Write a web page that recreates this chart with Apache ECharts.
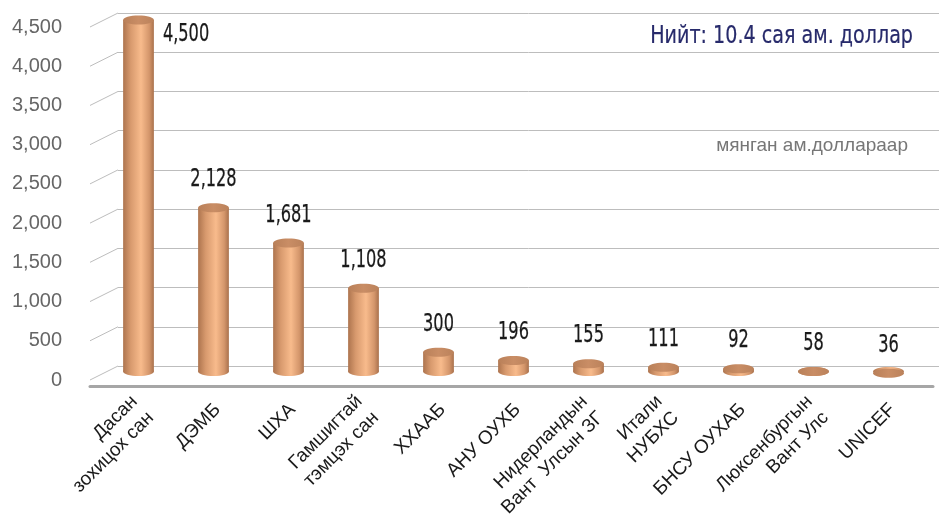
<!DOCTYPE html>
<html>
<head>
<meta charset="utf-8">
<script src="https://cdn.jsdelivr.net/npm/echarts@6/dist/echarts.min.js"></script>
<style>
html,body{margin:0;padding:0;background:#fff;}
#chart{width:939px;height:521px;}
</style>
</head>
<body>
<div id="chart"></div>
<script>
var categories = ['Дасан\nзохицох сан','ДЭМБ','ШХА','Гамшигтай\nтэмцэх сан','ХХААБ','АНУ ОУХБ','Нидерландын\nВант  Улсын ЗГ','Итали\nНУБХС','БНСУ ОУХАБ','Люксенбургын\nВант Улс','UNICEF'];
var values = [4500, 2128, 1681, 1108, 300, 196, 155, 111, 92, 58, 36];
var yTicks = [0, 500, 1000, 1500, 2000, 2500, 3000, 3500, 4000, 4500];
var titleText = 'Нийт: 10.4 сая ам. доллар';
var unitText = 'мянган ам.доллараар';

var NARROW = "'DejaVu Sans Condensed','Liberation Sans Narrow',sans-serif";
var SANS = "'Liberation Sans',Arial,sans-serif";
var fmt = function (v) { return Number(v).toLocaleString('en-US'); };

var chart = echarts.init(document.getElementById('chart'), null, {renderer: 'canvas'});

var sideGrad = {
  type: 'linear', x: 0, y: 0, x2: 1, y2: 0,
  colorStops: [
    {offset: 0, color: '#ad744e'},
    {offset: 0.25, color: '#d89a6e'},
    {offset: 0.58, color: '#f8bb8c'},
    {offset: 0.85, color: '#d4966b'},
    {offset: 1, color: '#a9714c'}
  ]
};
var topGrad = {
  type: 'linear', x: 0, y: 0, x2: 1, y2: 0,
  colorStops: [
    {offset: 0, color: '#b98059'},
    {offset: 0.5, color: '#c98d65'},
    {offset: 1, color: '#bb825b'}
  ]
};

var option = {
  animation: false,
  backgroundColor: '#ffffff',
  graphic: [
    {type: 'text', x: 913, y: 36, scaleX: 0.85, silent: true,
     style: {text: titleText, x: 0, y: 0, align: 'right', verticalAlign: 'middle',
             font: '25px ' + NARROW, fill: '#272a6b', stroke: '#272a6b', lineWidth: 0.2}},
    {type: 'text', x: 908, y: 146, silent: true,
     style: {text: unitText, x: 0, y: 0, align: 'right', verticalAlign: 'middle',
             font: '19px ' + SANS, fill: '#777777'}}
  ],
  grid: [
    {left: 118, right: 0, top: 13, bottom: 155},   // back wall
    {left: 90, right: 0, top: 27, bottom: 141},    // front edge for y labels
    {left: 101, right: 13, top: 20, bottom: 145},  // bars
    {left: 90, right: 6, top: 20, bottom: 135},    // floor line
    {left: 105, right: 9, top: 20, bottom: 135}    // category labels
  ],
  xAxis: [
    {gridIndex: 0, type: 'value', min: 0, max: 1, show: false},
    {gridIndex: 1, type: 'value', min: 0, max: 1, show: false},
    {gridIndex: 2, type: 'category', data: categories, show: false},
    {gridIndex: 3, type: 'category', data: categories, axisLine: {show: true, lineStyle: {color: '#a6a6a6', width: 3}},
     axisTick: {show: false}, axisLabel: {show: false}},
    {gridIndex: 4, type: 'category', data: categories, axisLine: {show: false}, axisTick: {show: false},
     axisLabel: {rotate: 45, margin: 24, interval: 0, fontFamily: SANS, fontSize: 19, lineHeight: 23, color: '#1a1a1a'}}
  ],
  yAxis: [
    {gridIndex: 0, type: 'value', min: 0, max: 4500, interval: 500,
     axisLine: {show: false}, axisTick: {show: false}, axisLabel: {show: false},
     splitLine: {show: true, lineStyle: {color: '#bdbdbd', width: 1}}},
    {gridIndex: 1, type: 'value', min: 0, max: 4500, interval: 500,
     axisLine: {show: false}, axisTick: {show: false}, splitLine: {show: false},
     axisLabel: {margin: 28, formatter: fmt, fontFamily: SANS, fontSize: 20, color: '#666666'}},
    {gridIndex: 2, type: 'value', min: 0, max: 4500, show: false},
    {gridIndex: 3, type: 'value', min: 0, max: 4500, show: false},
    {gridIndex: 4, type: 'value', min: 0, max: 4500, show: false}
  ],
  series: [
    {
      type: 'custom', xAxisIndex: 0, yAxisIndex: 0, silent: true,
      data: yTicks,
      renderItem: function (params, api) {
        var p = api.coord([0, api.value(0)]);
        return {type: 'line', shape: {x1: p[0] - 28, y1: p[1] + 14, x2: p[0], y2: p[1]},
                style: {stroke: '#bdbdbd', lineWidth: 1}};
      },
      encode: {y: 0}
    },
    {
      type: 'custom', xAxisIndex: 2, yAxisIndex: 2, silent: true,
      data: values.map(function (v, i) { return [i, v]; }),
      encode: {x: 0, y: 1},
      renderItem: function (params, api) {
        var i = api.value(0), v = api.value(1);
        var top = api.coord([i, v]);
        var base = api.coord([i, 0]);
        var w = api.size([1, 0])[0] * 0.41;
        var rx = w / 2, ry = 4.5;
        var cx = top[0], ty = top[1], by = base[1] - ry;
        var gridTop = params.coordSys.y;
        var lx = cx, ly = ty - 28, align = 'center';
        if (ly - 12 < gridTop - 10) { lx = cx + rx + 9; ly = ty + 14; align = 'left'; }
        return {
          type: 'group',
          children: [
            {type: 'rect', shape: {x: cx - rx, y: ty, width: w, height: Math.max(0, by - ty)}, style: {fill: sideGrad}},
            {type: 'ellipse', shape: {cx: cx, cy: by, rx: rx, ry: ry}, style: {fill: sideGrad}},
            {type: 'ellipse', shape: {cx: cx, cy: ty, rx: rx, ry: ry}, style: {fill: topGrad}},
            {type: 'text', x: lx, y: ly, scaleX: 0.72,
             style: {text: fmt(v), x: 0, y: 0, align: align, verticalAlign: 'middle',
                     font: '25px ' + NARROW, fill: '#1a1a1a', stroke: '#1a1a1a', lineWidth: 0.25}}
          ]
        };
      }
    }
  ]
};
chart.setOption(option);
</script>
</body>
</html>
